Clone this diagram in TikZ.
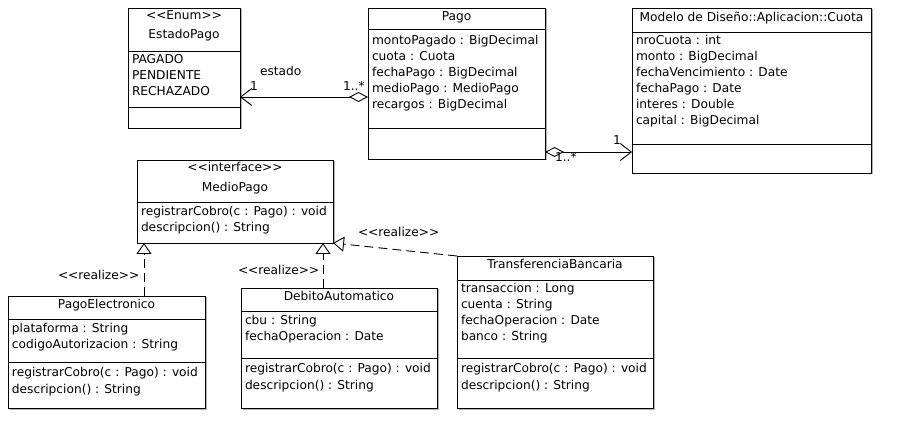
\documentclass[tikz,border=0pt]{standalone}
\usepackage{fontspec}
\setmainfont{DejaVu Sans}
\usetikzlibrary{arrows.meta,shadows}
\begin{document}
\begin{tikzpicture}[x=1pt,y=-1pt,
  cls/.style={draw,line width=0.9pt,fill=white,rectangle,anchor=north west,inner sep=0pt,outer sep=0pt,
    drop shadow={shadow xshift=1.5pt,shadow yshift=-1.5pt,fill=black!30,opacity=1}},
  sep/.style={line width=0.9pt},
  txt/.style={inner sep=0pt,outer sep=0pt,font=\fontsize{12.2pt}{16pt}\selectfont},
  lft/.style={txt,anchor=base west},
  ctr/.style={txt,anchor=base},
  assoc/.style={line width=0.9pt,{Diamond[fill=white,length=19pt,width=10pt]}-{Straight Barb[length=11pt,width=17pt]}},
  realz/.style={line width=0.9pt,dash pattern=on 9pt off 5pt,-{Triangle[fill=white,length=11pt,width=15pt]}}
]
\useasboundingbox (0,0) rectangle (900,438);

% EstadoPago
\node[cls,minimum width=112pt,minimum height=120pt] (estado) at (128,8) {};
\draw[sep] (estado.west |- 0,51) -- (estado.east |- 0,51);
\draw[sep] (estado.west |- 0,107) -- (estado.east |- 0,107);
\node[ctr] (estadoS) at (184,20) {<{}<Enum>{}>};
\node[ctr] (estadoT) at (184,39) {EstadoPago};
\node[lft] (estado1) at (132,64) {PAGADO};
\node[lft] (estado2) at (132,80) {PENDIENTE};
\node[lft] (estado3) at (132,96) {RECHAZADO};

% Pago
\node[cls,minimum width=177pt,minimum height=151pt] (pago) at (368,8) {};
\draw[sep] (pago.west |- 0,29) -- (pago.east |- 0,29);
\draw[sep] (pago.west |- 0,128) -- (pago.east |- 0,128);
\node[ctr] (pagoT) at (456.5,21) {Pago};
\node[lft] (pago1) at (372,45) {montoPagado : BigDecimal};
\node[lft] (pago2) at (372,61) {cuota : Cuota};
\node[lft] (pago3) at (372,77) {fechaPago : BigDecimal};
\node[lft] (pago4) at (372,93) {medioPago : MedioPago};
\node[lft] (pago5) at (372,109) {recargos : BigDecimal};

% Cuota
\node[cls,minimum width=239pt,minimum height=165pt] (cuota) at (632,8) {};
\draw[sep] (cuota.west |- 0,32) -- (cuota.east |- 0,32);
\draw[sep] (cuota.west |- 0,144) -- (cuota.east |- 0,144);
\node[ctr] (cuotaT) at (751.5,22) {Modelo de Diseño::Aplicacion::Cuota};
\node[lft] (cuota1) at (636,45) {nroCuota : int};
\node[lft] (cuota2) at (636,61) {monto : BigDecimal};
\node[lft] (cuota3) at (636,77) {fechaVencimiento : Date};
\node[lft] (cuota4) at (636,93) {fechaPago : Date};
\node[lft] (cuota5) at (636,109) {interes : Double};
\node[lft] (cuota6) at (636,125) {capital : BigDecimal};

% MedioPago
\node[cls,minimum width=196pt,minimum height=83pt] (medio) at (137,160) {};
\draw[sep] (medio.west |- 0,202) -- (medio.east |- 0,202);
\node[ctr] (medioS) at (235,172) {<{}<interface>{}>};
\node[ctr] (medioT) at (235,192) {MedioPago};
\node[lft] (medio1) at (141,216) {registrarCobro(c : Pago) : void};
\node[lft] (medio2) at (141,232) {descripcion() : String};

% PagoElectronico
\node[cls,minimum width=197pt,minimum height=112pt] (pe) at (8,296) {};
\draw[sep] (pe.west |- 0,319) -- (pe.east |- 0,319);
\draw[sep] (pe.west |- 0,362) -- (pe.east |- 0,362);
\node[ctr] (peT) at (106.5,309) {PagoElectronico};
\node[lft] (pe1) at (12,333) {plataforma : String};
\node[lft] (pe2) at (12,349) {codigoAutorizacion : String};
\node[lft] (pe3) at (12,377) {registrarCobro(c : Pago) : void};
\node[lft] (pe4) at (12,393) {descripcion() : String};

% DebitoAutomatico
\node[cls,minimum width=196pt,minimum height=120pt] (da) at (241,288) {};
\draw[sep] (da.west |- 0,311) -- (da.east |- 0,311);
\draw[sep] (da.west |- 0,358) -- (da.east |- 0,358);
\node[ctr] (daT) at (339,301) {DebitoAutomatico};
\node[lft] (da1) at (245,325) {cbu : String};
\node[lft] (da2) at (245,341) {fechaOperacion : Date};
\node[lft] (da3) at (245,373) {registrarCobro(c : Pago) : void};
\node[lft] (da4) at (245,389) {descripcion() : String};

% TransferenciaBancaria
\node[cls,minimum width=196pt,minimum height=152pt] (tb) at (457,256) {};
\draw[sep] (tb.west |- 0,280) -- (tb.east |- 0,280);
\draw[sep] (tb.west |- 0,358) -- (tb.east |- 0,358);
\node[ctr] (tbT) at (555,269) {TransferenciaBancaria};
\node[lft] (tb1) at (461,293) {transaccion : Long};
\node[lft] (tb2) at (461,309) {cuenta : String};
\node[lft] (tb3) at (461,325) {fechaOperacion : Date};
\node[lft] (tb4) at (461,341) {banco : String};
\node[lft] (tb5) at (461,373) {registrarCobro(c : Pago) : void};
\node[lft] (tb6) at (461,389) {descripcion() : String};

% associations
\draw[assoc] (pago.west |- 0,97) -- (estado.east |- 0,97);
\node[lft] (estLbl) at (260,76) {estado};
\node[lft] (estM1) at (250,91) {1};
\node[lft] (estM2) at (343,91) {1..*};

\draw[assoc] (pago.east |- 0,152) -- (cuota.west |- 0,152);
\node[lft] (cuM1) at (613,145) {1};
\node[lft] (cuM2) at (555,162) {1..*};

% realizations
\draw[realz] (pe.north -| 144,0) -- (medio.south -| 144,0);
\node[lft] (r1) at (58,280) {<{}<realize>{}>};
\draw[realz] (da.north -| 323,0) -- (medio.south -| 323,0);
\node[lft] (r2) at (238,275) {<{}<realize>{}>};
\draw[realz] (tb.north west) -- (medio.south east);
\node[lft] (r3) at (358,237) {<{}<realize>{}>};
\end{tikzpicture}
\end{document}
